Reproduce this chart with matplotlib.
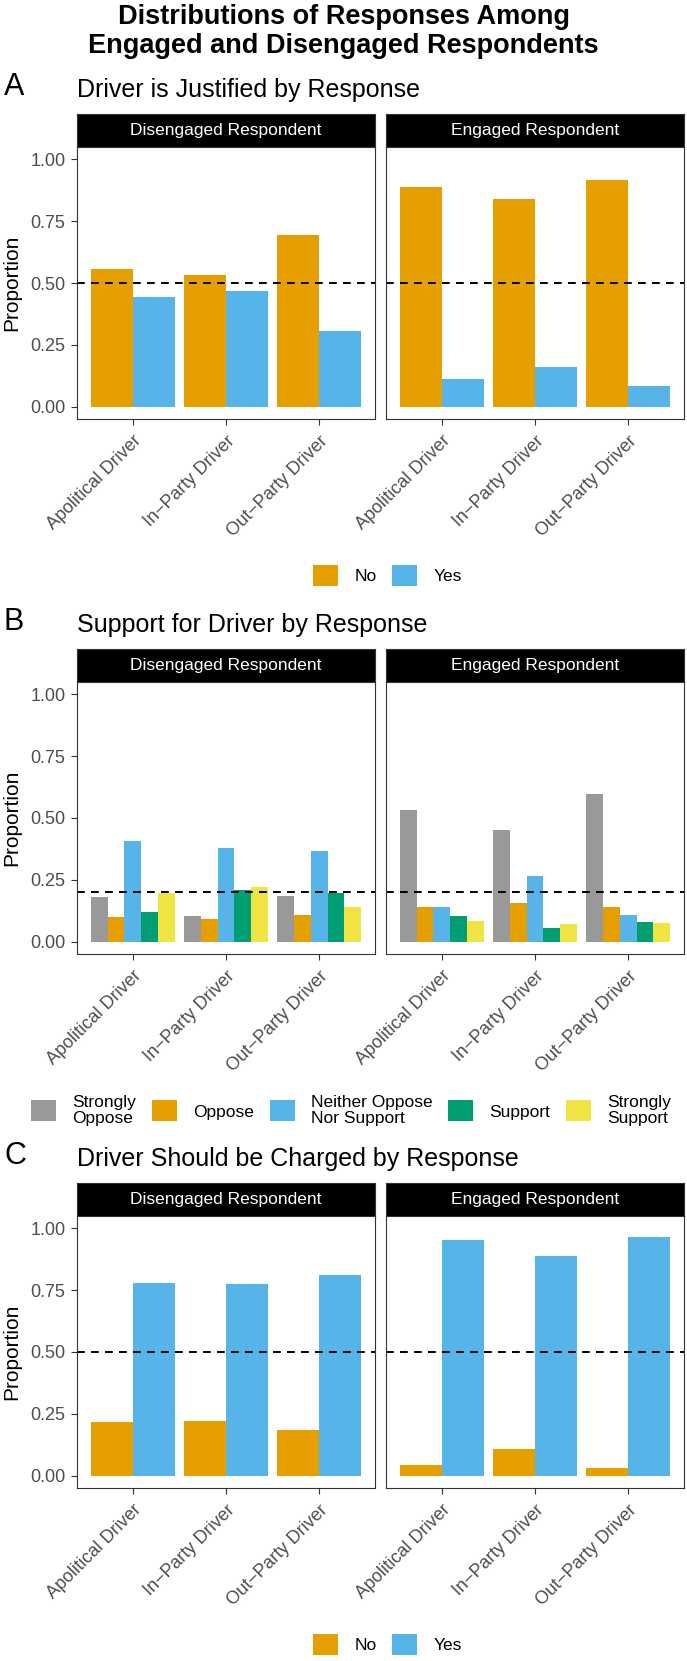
import matplotlib
matplotlib.use("Agg")
import matplotlib.pyplot as plt
import matplotlib.transforms as mtransforms
from matplotlib.patches import Patch
import numpy as np

plt.rcParams["font.family"] = ["Liberation Sans", "DejaVu Sans"]

W, H, DPI = 687, 1661, 100

drivers = ["Apolitical Driver", "In\u2212Party Driver", "Out\u2212Party Driver"]
facets = ["Disengaged Respondent", "Engaged Respondent"]

# ── A: driver is justified (rows = No, Yes; cols = driver) ──
just_labels = ["No", "Yes"]
just_colors = ["#E69F00", "#56B4E9"]
just_dis = [[0.558, 0.531, 0.695],
            [0.442, 0.469, 0.305]]
just_eng = [[0.888, 0.841, 0.918],
            [0.112, 0.159, 0.082]]

# ── B: support for driver ──
supp_labels = ["Strongly\nOppose", "Oppose", "Neither Oppose\nNor Support",
               "Support", "Strongly\nSupport"]
supp_colors = ["#999999", "#E69F00", "#56B4E9", "#009E73", "#F0E442"]
supp_dis = [[0.182, 0.104, 0.185],
            [0.099, 0.090, 0.109],
            [0.405, 0.377, 0.368],
            [0.119, 0.209, 0.197],
            [0.196, 0.220, 0.142]]
supp_eng = [[0.533, 0.452, 0.598],
            [0.142, 0.157, 0.142],
            [0.139, 0.265, 0.108],
            [0.104, 0.054, 0.081],
            [0.082, 0.072, 0.074]]

# ── C: driver should be charged ──
charge_labels = ["No", "Yes"]
charge_colors = ["#E69F00", "#56B4E9"]
charge_dis = [[0.215, 0.219, 0.184],
              [0.781, 0.776, 0.813]]
charge_eng = [[0.044, 0.107, 0.032],
              [0.953, 0.889, 0.964]]

BORDER = "#333333"
TICKTXT = "#4D4D4D"

fig = plt.figure(figsize=(W / DPI, H / DPI), dpi=DPI)


def px_axes(left, top, right, bottom):
    return fig.add_axes([left / W, 1 - bottom / H, (right - left) / W, (bottom - top) / H])


PANELS_X = [(77, 375), (386, 684)]
label_shift = mtransforms.ScaledTranslation(4 / DPI, 0, fig.dpi_scale_trans)


def draw_row(S, letter, title, data, labels, colors, hline, legend_cx):
    fig.text(4 / W, 1 - (S - 19) / H, letter, fontsize=22, va="baseline", ha="left")
    fig.text(77 / W, 1 - (S - 17) / H, title, fontsize=18, va="baseline", ha="left")

    x = np.arange(1, len(drivers) + 1)
    n = len(labels)
    bw = 0.9 / n
    for j, ((l, r), facet) in enumerate(zip(PANELS_X, facets)):
        strip = px_axes(l, S, r, S + 33)
        strip.set_facecolor("black")
        strip.set_xticks([])
        strip.set_yticks([])
        for sp in strip.spines.values():
            sp.set_color(BORDER)
            sp.set_linewidth(0.8)
        strip.text(0.5, 0.5, facet, color="white", fontsize=12.5,
                   ha="center", va="center", transform=strip.transAxes)

        ax = px_axes(l, S + 33, r, S + 305)
        for i in range(n):
            ax.bar(x + (i - (n - 1) / 2) * bw, data[j][i], width=bw,
                   color=colors[i], linewidth=0)
        ax.axhline(hline, color="black", linewidth=1.4, linestyle=(0, (4, 3.2)))
        ax.set_xlim(0.4, 3.6)
        ax.set_ylim(-0.05, 1.05)
        for sp in ax.spines.values():
            sp.set_color(BORDER)
            sp.set_linewidth(0.8)
        ax.set_xticks(x)
        ax.set_xticklabels(drivers, rotation=45, ha="right", va="top",
                           rotation_mode="anchor", fontsize=13, color=TICKTXT)
        for lab in ax.get_xticklabels():
            lab.set_transform(lab.get_transform() + label_shift)
        ax.tick_params(axis="x", length=4.3, width=0.8, color=BORDER, pad=5.5)
        ax.set_yticks([0, 0.25, 0.5, 0.75, 1.0])
        if j == 0:
            ax.set_yticklabels(["0.00", "0.25", "0.50", "0.75", "1.00"],
                               fontsize=13, color=TICKTXT)
            ax.tick_params(axis="y", length=4.3, width=0.8, color=BORDER, pad=4)
        else:
            ax.tick_params(axis="y", length=0, labelleft=False)

    fig.text(12 / W, 1 - (S + 33 + 136) / H, "Proportion", rotation=90,
             fontsize=15, ha="center", va="center")

    handles = [Patch(facecolor=c, edgecolor="none") for c in colors]
    leg = fig.legend(handles, labels, loc="center",
                     bbox_to_anchor=(legend_cx / W, 1 - (S + 461.5) / H),
                     ncol=n, frameon=False, fontsize=12.5,
                     handlelength=1.44, handleheight=1.44,
                     handletextpad=0.92, columnspacing=0.92,
                     borderpad=0, borderaxespad=0)
    for t in leg.get_texts():
        t.set_linespacing(1.05)


fig.text(0.5, 1 - 24 / H, "Distributions of Responses Among",
         fontsize=19.5, fontweight="bold", ha="center", va="baseline")
fig.text(0.5, 1 - 53 / H, "Engaged and Disengaged Respondents",
         fontsize=19.5, fontweight="bold", ha="center", va="baseline")

draw_row(114, "A", "Driver is Justified by Response",
         [just_dis, just_eng], just_labels, just_colors, 0.5, 387.5)
draw_row(649, "B", "Support for Driver by Response",
         [supp_dis, supp_eng], supp_labels, supp_colors, 0.2, 351)
draw_row(1183, "C", "Driver Should be Charged by Response",
         [charge_dis, charge_eng], charge_labels, charge_colors, 0.5, 387.5)

fig.savefig("out.png", dpi=DPI)
